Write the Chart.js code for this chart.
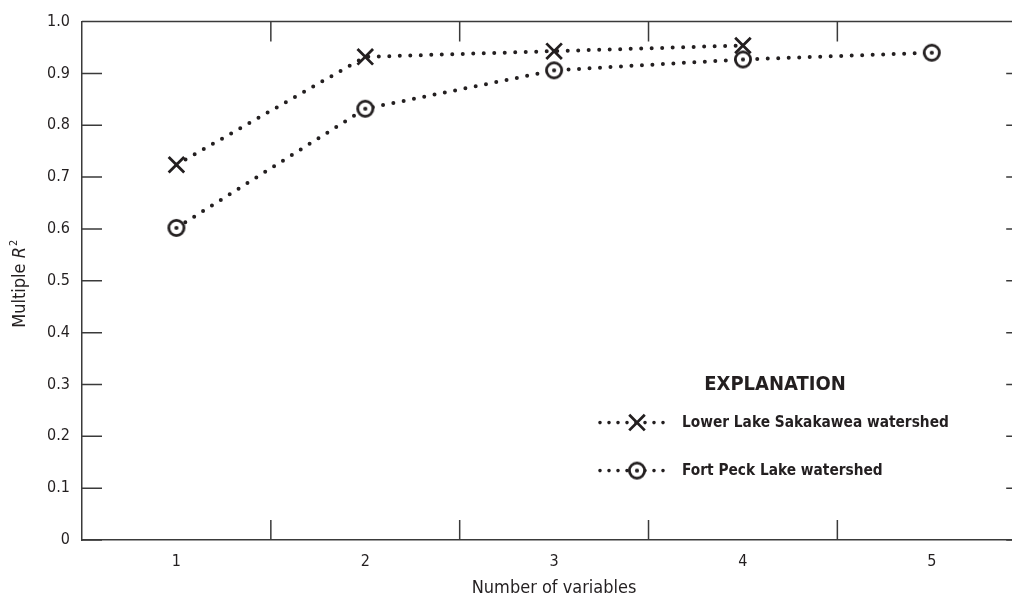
<!DOCTYPE html>
<html>
<head>
<meta charset="utf-8">
<script src="https://cdn.jsdelivr.net/npm/chart.js@4/dist/chart.umd.min.js"></script>
<style>
  html, body { margin: 0; padding: 0; background: #fff; overflow: hidden; }
  #wrap { width: 1040px; height: 608px; }
</style>
</head>
<body>
<div id="wrap"><canvas id="myChart"></canvas></div>
<script>
// values
var xLabels = ['1', '2', '3', '4', '5'];
var yTickLabels = ['0', '0.1', '0.2', '0.3', '0.4', '0.5', '0.6', '0.7', '0.8', '0.9', '1.0'];
var seriesNames = ['Lower Lake Sakakawea watershed', 'Fort Peck Lake watershed'];
var sakakawea = [0.724, 0.932, 0.943, 0.954, null];
var fortPeck = [0.602, 0.832, 0.906, 0.927, 0.940];

var ink = '#231f20';
var axisInk = '#3a3a3a';
var fam = '"Liberation Sans Narrow", "DejaVu Sans Condensed", "Liberation Sans", sans-serif';

// circle with a dot in the middle
function ringMarker() {
    var c = document.createElement('canvas');
    c.width = 24; c.height = 24;
    var g = c.getContext('2d');
    g.fillStyle = '#fff';
    g.strokeStyle = ink;
    g.lineWidth = 2.8;
    g.beginPath(); g.arc(12, 12, 7.6, 0, 2 * Math.PI); g.fill(); g.stroke();
    g.fillStyle = ink;
    g.beginPath(); g.arc(12, 12, 2.1, 0, 2 * Math.PI); g.fill();
    return c;
}
var ring = ringMarker();

// inward ticks, top border, y title, explanation box
var decor = {
    id: 'decor',
    beforeDatasetsDraw: function(chart) {
        var ctx = chart.ctx, a = chart.chartArea;
        var xs = chart.scales.x, ys = chart.scales.y;
        ctx.save();
        ctx.strokeStyle = axisInk;
        ctx.lineWidth = 1.5;
        ctx.beginPath();
        ctx.moveTo(a.left, a.top); ctx.lineTo(a.right, a.top);
        ctx.moveTo(a.right, a.top); ctx.lineTo(a.right, a.bottom);
        var half = (xs.getPixelForValue(1) - xs.getPixelForValue(0)) / 2;
        for (var i = 0; i < xLabels.length - 1; i++) {
            var px = xs.getPixelForValue(i) + half;
            ctx.moveTo(px, a.bottom); ctx.lineTo(px, a.bottom - 20);
            ctx.moveTo(px, a.top); ctx.lineTo(px, a.top + 20);
        }
        ys.ticks.forEach(function(t) {
            var py = ys.getPixelForValue(t.value);
            ctx.moveTo(a.left, py); ctx.lineTo(a.left + 20, py);
            ctx.moveTo(a.right, py); ctx.lineTo(a.right - 20, py);
        });
        ctx.stroke();
        ctx.restore();
    },
    afterDraw: function(chart) {
        var ctx = chart.ctx, a = chart.chartArea;
        ctx.save();
        ctx.fillStyle = ink;

        // y axis title: Multiple R^2
        var size = 18;
        var p1 = 'Multiple ', p2 = 'R', p3 = '2';
        ctx.font = size + 'px ' + fam;
        var w1 = ctx.measureText(p1).width;
        ctx.font = 'italic ' + size + 'px ' + fam;
        var w2 = ctx.measureText(p2).width;
        ctx.font = Math.round(size * 0.6) + 'px ' + fam;
        var w3 = ctx.measureText(p3).width;
        var total = w1 + w2 + w3 + 1;
        ctx.translate(25, (a.top + a.bottom) / 2 + 3);
        ctx.rotate(-Math.PI / 2);
        ctx.textBaseline = 'alphabetic';
        ctx.textAlign = 'left';
        var sx = -total / 2;
        ctx.font = size + 'px ' + fam;
        ctx.fillText(p1, sx, 0);
        ctx.font = 'italic ' + size + 'px ' + fam;
        ctx.fillText(p2, sx + w1, 0);
        ctx.font = Math.round(size * 0.6) + 'px ' + fam;
        ctx.fillText(p3, sx + w1 + w2 + 1, -size * 0.45);
        ctx.restore();

        // explanation
        ctx.save();
        var lx = 600, ly = a.top + 363;
        ctx.fillStyle = ink;
        ctx.font = 'bold 20px ' + fam;
        ctx.textAlign = 'center';
        ctx.textBaseline = 'middle';
        ctx.fillText('EXPLANATION', lx + 175, ly);
        chart.data.datasets.forEach(function(ds, k) {
            var ry = ly + 38 + k * 48;
            ctx.save();
            ctx.strokeStyle = ds.borderColor;
            ctx.lineWidth = 3.6;
            ctx.lineCap = 'round';
            ctx.setLineDash([0, 9]);
            ctx.beginPath();
            ctx.moveTo(lx, ry); ctx.lineTo(lx + 66, ry);
            ctx.stroke();
            ctx.restore();
            ctx.save();
            ctx.strokeStyle = ink;
            ctx.fillStyle = ds.backgroundColor;
            ctx.lineWidth = ds.pointBorderWidth;
            Chart.helpers.drawPoint(ctx, {
                pointStyle: ds.pointStyle,
                radius: ds.pointRadius,
                borderWidth: ds.pointBorderWidth,
                rotation: 0
            }, lx + 37, ry);
            ctx.restore();
            ctx.fillStyle = ink;
            ctx.font = 'bold 15.3px ' + fam;
            ctx.textAlign = 'left';
            ctx.fillText(ds.label, lx + 82, ry);
        });
        ctx.restore();
    }
};

var ctx = document.getElementById('myChart').getContext('2d');
var chart = new Chart(ctx, {
    type: 'line',
    data: {
        labels: xLabels,
        datasets: [{
            label: seriesNames[0],
            data: sakakawea,
            borderColor: ink,
            backgroundColor: ink,
            borderWidth: 4,
            borderDash: [0, 10.5],
            borderCapStyle: 'round',
            pointStyle: 'crossRot',
            pointRadius: 11,
            pointBorderWidth: 2.8,
            pointBorderColor: ink,
            fill: false,
            spanGaps: false
        }, {
            label: seriesNames[1],
            data: fortPeck,
            borderColor: ink,
            backgroundColor: '#fff',
            borderWidth: 4,
            borderDash: [0, 10.5],
            borderCapStyle: 'round',
            pointStyle: ring,
            pointRadius: 8,
            pointBorderWidth: 2.8,
            fill: false
        }]
    },
    options: {
        responsive: true,
        maintainAspectRatio: false,
        animation: false,
        layout: { padding: { top: 21, right: 13, left: 0, bottom: 0 } },
        plugins: {
            legend: { display: false },
            tooltip: { enabled: false }
        },
        scales: {
            x: {
                offset: true,
                grid: { display: false, drawTicks: false },
                border: { display: true, color: axisInk, width: 1.5 },
                ticks: { color: ink, padding: 12, font: { family: fam, size: 16 } },
                title: {
                    display: true,
                    text: 'Number of variables',
                    color: ink,
                    font: { family: fam, size: 18 },
                    padding: { top: 0, bottom: 9 }
                },
                afterFit: function(s) { s.height = 68; }
            },
            y: {
                min: 0,
                max: 1,
                grid: { display: false, drawTicks: false },
                border: { display: true, color: axisInk, width: 1.5 },
                ticks: {
                    stepSize: 0.1,
                    color: ink,
                    padding: 12,
                    font: { family: fam, size: 16 },
                    callback: function(v, i) { return yTickLabels[i]; }
                },
                afterFit: function(s) { s.width = 82; }
            }
        }
    },
    plugins: [decor]
});
</script>
</body>
</html>
